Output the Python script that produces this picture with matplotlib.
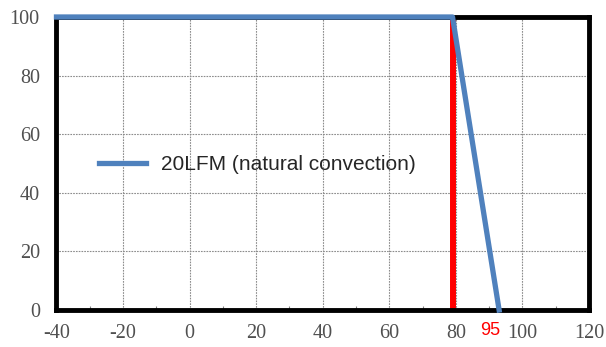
import matplotlib
matplotlib.use("Agg")
import matplotlib.pyplot as plt
from matplotlib.ticker import MultipleLocator

plt.rcParams["axes.unicode_minus"] = False

# derating curve
temp = [-40, 79, 93]
power = [100, 100, 0]
series_label = "20LFM (natural convection)"

# marker line at the knee
mark_x = [79, 79]
mark_y = [0, 100]
mark_text = "95"

xticks = [-40, -20, 0, 20, 40, 60, 80, 100, 120]
yticks = [0, 20, 40, 60, 80, 100]

fig = plt.figure(figsize=(6.06, 3.47), dpi=100)
ax = fig.add_axes([0.0932, 0.1066, 0.8787, 0.8444])

ax.plot(mark_x, mark_y, color="#ff0000", lw=4.3, solid_capstyle="butt", zorder=3, clip_on=False)
ax.plot(temp, power, color="#4f81bd", lw=3.8, label=series_label, zorder=5, clip_on=False)

ax.set_xlim(-40, 120)
ax.set_ylim(0, 100)
ax.set_xticks(xticks)
ax.set_yticks(yticks)
ax.xaxis.set_minor_locator(MultipleLocator(10))

ax.grid(True, which="major", color="#8c8c8c", ls=(0, (1.5, 1)), lw=0.8)
ax.set_axisbelow(True)
for s in ax.spines.values():
    s.set_linewidth(3.5)
    s.set_color("black")
    s.set_zorder(4)

ax.tick_params(which="major", length=0, labelsize=14.5, labelcolor="#505050")
ax.tick_params(axis="x", which="major", pad=10)
ax.tick_params(axis="y", which="major", pad=12)
ax.tick_params(axis="x", which="minor", direction="in", length=3, width=0.8, color="#808080")
for lbl in ax.get_xticklabels() + ax.get_yticklabels():
    lbl.set_family("Liberation Serif")

# red annotation under the end point
ax.text(90.3, -4.0, mark_text, color="#ff0000", fontsize=13, family="Liberation Sans",
        ha="center", va="top", clip_on=False)

leg = ax.legend(loc="center left", bbox_to_anchor=(0.044, 0.495), frameon=False,
                handlelength=2.25, handletextpad=0.72,
                prop={"family": "Liberation Sans", "size": 15})
for t in leg.get_texts():
    t.set_color("#262626")

fig.savefig("out.png", dpi=100)
